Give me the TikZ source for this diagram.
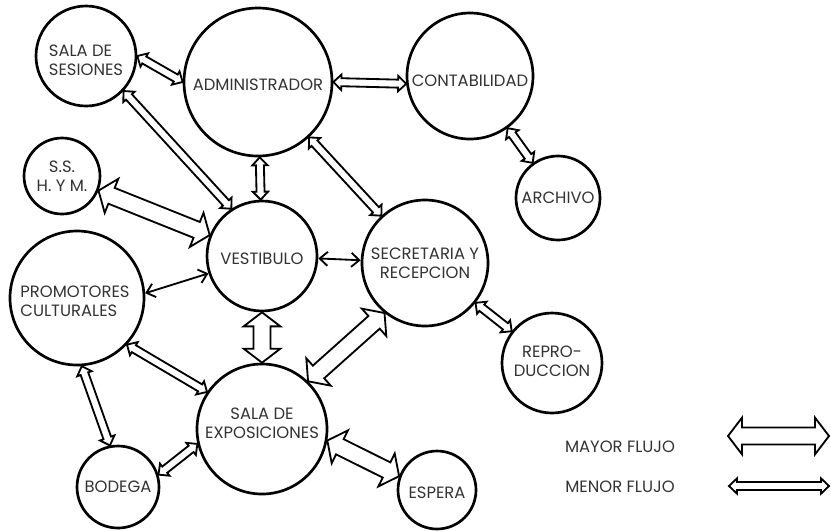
\documentclass[tikz,border=0pt]{standalone}
\usepackage{fontspec}
\setmainfont{Poppins}
\usepackage{tikz}
\usetikzlibrary{arrows.meta, calc}

% hollow double-headed arrow between two nodes
% #1 from, #2 to, #3 half shaft, #4 half head, #5 head length
\newcommand{\flujo}[5]{%
  \path (#1) -- (#2) coordinate[pos=0] (f1) coordinate[pos=1] (f2);
  \draw[flecha] (f1)
    -- ($(f1)!#5!(f2)!#4!90:(f2)$)
    -- ($(f1)!#5!(f2)!#3!90:(f2)$)
    -- ($(f2)!#5!(f1)!#3!-90:(f1)$)
    -- ($(f2)!#5!(f1)!#4!-90:(f1)$)
    -- (f2)
    -- ($(f2)!#5!(f1)!#4!90:(f1)$)
    -- ($(f2)!#5!(f1)!#3!90:(f1)$)
    -- ($(f1)!#5!(f2)!#3!-90:(f2)$)
    -- ($(f1)!#5!(f2)!#4!-90:(f2)$)
    -- cycle;
}
\newcommand{\mayor}[2]{\flujo{#1}{#2}{2.55mm}{5.5mm}{4.2mm}}
\newcommand{\menor}[2]{\flujo{#1}{#2}{1.2mm}{2.3mm}{2.4mm}}

\begin{document}
\begin{tikzpicture}[
    x=0.3mm, y=-0.3mm,
    sala/.style={draw, circle, line width=0.8mm, minimum size=#1*0.3mm,
                 inner sep=0pt},
    rotulo/.style={font=\fontsize{14}{16.5}\selectfont, text=black!80,
                   align=center, inner sep=0pt},
    flecha/.style={draw, line width=0.55mm, fill=white},
    linea/.style={{Straight Barb[length=2.4mm, width=4.2mm]}-{Straight Barb[length=2.4mm, width=4.2mm]},
                  line width=0.55mm},
]
\useasboundingbox (0,0) rectangle (831,530);

% rooms
\node[sala=100] (ses)  at (86,56)   {};
\node[sala=148] (adm)  at (258,82)  {};
\node[sala=126] (cont) at (470,76)  {};
\node[sala=84]  (arch) at (558,198) {};
\node[sala=76]  (ss)   at (62,176)  {};
\node[sala=110] (vest) at (262,256) {};
\node[sala=126] (sec)  at (425,263) {};
\node[sala=134] (prom) at (77,298)  {};
\node[sala=130] (expo) at (262,429) {};
\node[sala=82]  (bod)  at (118,487) {};
\node[sala=78]  (esp)  at (437,490) {};
\node[sala=100] (rep)  at (552,363) {};

% names
\node[rotulo, align=left] (ses-t) at ($(ses)+(0,4)$) {SALA DE\\SESIONES};
\node[rotulo] (adm-t)  at ($(adm)+(0,3)$)  {ADMINISTRADOR};
\node[rotulo] (cont-t) at ($(cont)+(0,5)$) {CONTABILIDAD};
\node[rotulo] (arch-t) at (arch) {ARCHIVO};
\node[rotulo] (ss-t)   at (ss)   {S.S.\\H. Y M.};
\node[rotulo] (vest-t) at ($(vest)+(0,3)$) {VESTIBULO};
\node[rotulo] (sec-t)  at (sec)  {SECRETARIA Y\\RECEPCION};
\node[rotulo, align=left] (prom-t) at ($(prom)+(-2,3)$) {PROMOTORES\\CULTURALES};
\node[rotulo] (expo-t) at ($(expo)+(0,-6)$) {SALA DE\\EXPOSICIONES};
\node[rotulo] (bod-t)  at (bod)  {BODEGA};
\node[rotulo] (esp-t)  at ($(esp)+(0,3)$) {ESPERA};
\node[rotulo] (rep-t)  at ($(rep)+(0,-2)$) {REPRO-\\DUCCION};

% flows
\menor{ses.0}{adm.180}
\menor{adm.0}{cont.187}
\menor{cont}{arch}
\menor{ses.317}{vest.123}
\menor{adm}{vest}
\menor{adm}{sec}
\mayor{ss}{vest}
\draw[linea] (prom.4) -- (vest.198);
\draw[linea] (vest) -- (sec);
\mayor{vest}{expo}
\menor{prom.317}{expo.146}
\menor{prom.274}{bod.101}
\menor{bod.17}{expo.193}
\mayor{sec.231}{expo.46}
\menor{sec}{rep}
\mayor{expo.350}{esp.160}

% legend
\node[rotulo] (may-t) at (620,447) {MAYOR FLUJO};
\node[rotulo] (men-t) at (620,487) {MENOR FLUJO};
\coordinate (may-a) at (728,436);
\coordinate (may-b) at (829,436);
\coordinate (men-a) at (729,486);
\coordinate (men-b) at (829,486);
\mayor{may-a}{may-b}
\menor{men-a}{men-b}

\end{tikzpicture}
\end{document}
